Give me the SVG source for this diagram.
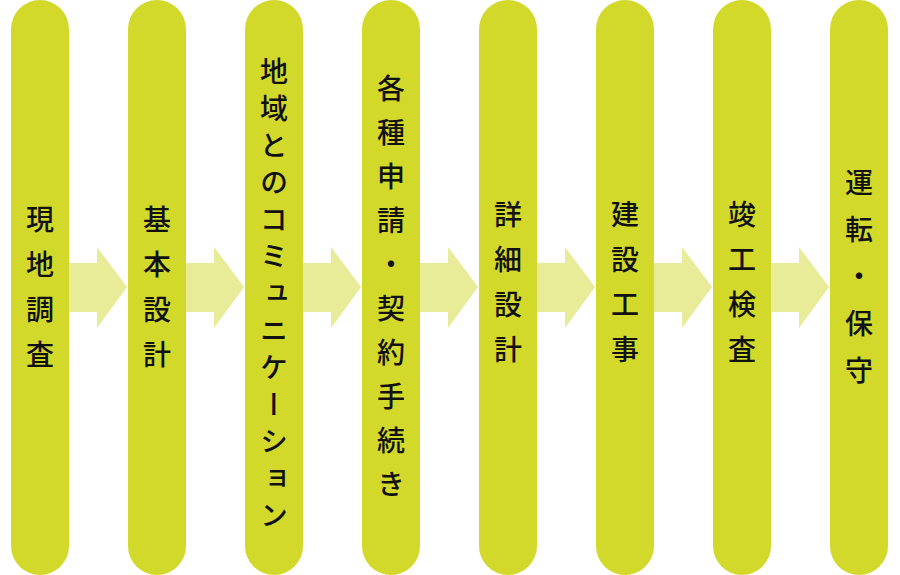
<svg xmlns="http://www.w3.org/2000/svg" width="900" height="575" viewBox="0 0 900 575">
<defs><style>
.p{fill:#d3d92a}
.a{fill:#e8eb97}
.t{font-family:"Noto Sans CJK JP",sans-serif;font-size:28px;font-weight:500;fill:#111;writing-mode:vertical-rl;text-anchor:middle}
</style>
<path id="arr" class="a" d="M0,-24 H28 V-41 H59 L59,-41 L59,0 L59,0 L59,0 Z"/>
</defs>
<g id="connectors">
<path class="a" d="M69,263 H97 V247 L127,287 L97,328 V312 H69 Z"/>
<path class="a" d="M186,263 H214 V247 L244,287 L214,328 V312 H186 Z"/>
<path class="a" d="M303,263 H331 V247 L361,287 L331,328 V312 H303 Z"/>
<path class="a" d="M420,263 H448 V247 L478,287 L448,328 V312 H420 Z"/>
<path class="a" d="M537,263 H565 V247 L595,287 L565,328 V312 H537 Z"/>
<path class="a" d="M654,263 H682 V247 L712,287 L682,328 V312 H654 Z"/>
<path class="a" d="M771,263 H799 V247 L829,287 L799,328 V312 H771 Z"/>
</g>
<g id="n1"><rect class="p" x="11" y="0" width="58" height="575" rx="29"/><text class="t" x="40" y="295" style="letter-spacing:17px">現地調査</text></g>
<g id="n2"><rect class="p" x="128" y="0" width="58" height="575" rx="29"/><text class="t" x="157" y="295" style="letter-spacing:17px">基本設計</text></g>
<g id="n3"><rect class="p" x="245" y="0" width="58" height="575" rx="29"/><text class="t" x="274" y="298" style="letter-spacing:9px">地域とのコミュニケーション</text></g>
<g id="n4"><rect class="p" x="362" y="0" width="58" height="575" rx="29"/><text class="t" x="391" y="294" style="letter-spacing:16px">各種申請・契約手続き</text></g>
<g id="n5"><rect class="p" x="479" y="0" width="58" height="575" rx="29"/><text class="t" x="508" y="290" style="letter-spacing:17px">詳細設計</text></g>
<g id="n6"><rect class="p" x="596" y="0" width="58" height="575" rx="29"/><text class="t" x="625" y="290" style="letter-spacing:17px">建設工事</text></g>
<g id="n7"><rect class="p" x="713" y="0" width="58" height="575" rx="29"/><text class="t" x="742" y="290" style="letter-spacing:17px">竣工検査</text></g>
<g id="n8"><rect class="p" x="830" y="0" width="58" height="575" rx="29"/><text class="t" x="859" y="286" style="letter-spacing:19px">運転・保守</text></g>
</svg>
